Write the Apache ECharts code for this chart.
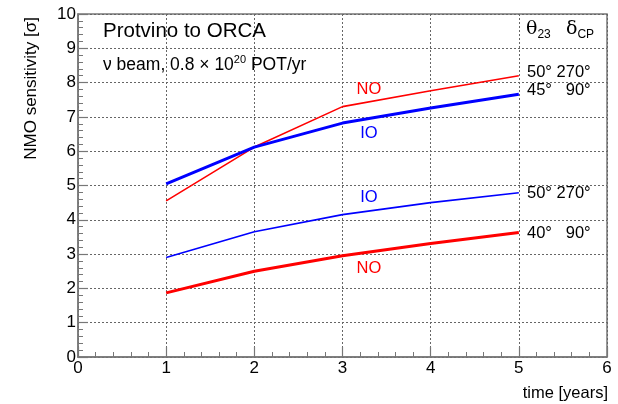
<!DOCTYPE html>
<html>
<head>
<meta charset="utf-8">
<script src="https://cdn.jsdelivr.net/npm/echarts@6/dist/echarts.min.js"></script>
<style>
  html, body { margin: 0; padding: 0; background: #fff; }
  #chart { width: 618px; height: 404px; }
</style>
</head>
<body>
<div id="chart"></div>
<script>
// Exposure time in years
const years = [1, 2, 3, 4, 5];

// NMO sensitivity [sigma] for each (theta23, deltaCP) scenario
const ioTh45Dcp90 = [5.05, 6.12, 6.82, 7.26, 7.66];   // IO, thick blue
const noTh50Dcp270 = [4.55, 6.12, 7.30, 7.76, 8.20];  // NO, thin red
const ioTh50Dcp270 = [2.90, 3.65, 4.15, 4.50, 4.79];  // IO, thin blue
const noTh40Dcp90 = [1.87, 2.50, 2.95, 3.31, 3.63];   // NO, thick red

const xTicks = [0, 1, 2, 3, 4, 5, 6];
const yTicks = [0, 1, 2, 3, 4, 5, 6, 7, 8, 9, 10];

const pair = (ys) => years.map((x, i) => [x, ys[i]]);

const font = 'Liberation Sans, Arial, Helvetica, sans-serif';
const gridCol = '#666';
const axisCol = '#777';

const chart = echarts.init(document.getElementById('chart'), null, { renderer: 'canvas' });

const G = { left: 78, right: 11, top: 14, bottom: 47 };

function axisCommon(ticks) {
  return {
    min: ticks[0],
    max: ticks[ticks.length - 1],
    interval: 1,
    axisLine: { show: true, onZero: false, lineStyle: { color: axisCol, width: 1.5 } },
    axisTick: { show: true, inside: true, length: 10, lineStyle: { color: axisCol, width: 1.2 } },
    minorTick: { show: true, splitNumber: 5, length: 5, lineStyle: { color: axisCol, width: 1 } },
    splitLine: { show: true, lineStyle: { color: gridCol, type: [2, 2], width: 1 } },
    axisLabel: { color: '#000', fontFamily: font, fontSize: 17 }
  };
}

const xAxis = Object.assign(axisCommon(xTicks), { type: 'value' });
xAxis.axisLabel = Object.assign({}, xAxis.axisLabel, { margin: 3 });
const yAxis = Object.assign(axisCommon(yTicks), { type: 'value' });
yAxis.axisLabel = Object.assign({}, yAxis.axisLabel, { margin: 2 });

function line(data, color, width) {
  return {
    type: 'line',
    data: pair(data),
    showSymbol: false,
    symbol: 'none',
    lineStyle: { color: color, width: width },
    animation: false,
    z: 5
  };
}

const option = {
  backgroundColor: '#fff',
  animation: false,
  grid: Object.assign({ show: true, borderColor: axisCol, borderWidth: 1.5, backgroundColor: 'transparent' }, G),
  xAxis: xAxis,
  yAxis: yAxis,
  series: [
    line(noTh50Dcp270, '#ff0000', 1.6),
    line(ioTh45Dcp90, '#0000ff', 3),
    line(ioTh50Dcp270, '#0000ff', 1.6),
    line(noTh40Dcp90, '#ff0000', 3)
  ]
};
chart.setOption(option);

// Annotations placed in data coordinates
function at(x, y) { return chart.convertToPixel({ gridIndex: 0 }, [x, y]); }

function txt(p, text, color, size, align, rich) {
  return {
    type: 'text',
    x: p[0], y: p[1],
    style: {
      text: text, fill: color, fontFamily: font, fontSize: size,
      align: align || 'left', verticalAlign: 'middle', rich: rich
    },
    z: 10
  };
}

const sup = { sup: { fontSize: 11, verticalAlign: 'top', padding: [0, 0, 11, 0], fill: '#000', fontFamily: font } };
const sub = {
  sub: { fontSize: 12, fontFamily: font, fill: '#000', padding: [11, 0, 0, 0] },
  g: { fontSize: 19, fontFamily: 'DejaVu Serif, serif', fill: '#000' }
};

const graphics = [
  txt([103, 31], 'Protvino to ORCA', '#000', 20.5),
  txt([103, 65], '\u03bd beam, 0.8 \u00d7 10{sup|20} POT/yr', '#000', 17.5, 'left', sup),
  txt(at(3.16, 7.8), 'NO', '#ff0000', 16.5),
  txt(at(3.2, 6.52), 'IO', '#0000ff', 16.5),
  txt(at(3.2, 4.66), 'IO', '#0000ff', 16.5),
  txt(at(3.16, 2.58), 'NO', '#ff0000', 16.5),
  txt([526, 29], '{g|\u03b8}{sub|23}', '#000', 19, 'left', sub),
  txt([566, 29], '{g|\u03b4}{sub|CP}', '#000', 19, 'left', sub),
  txt([527, at(5, 8.31)[1]], '50\u00b0 270\u00b0', '#000', 16.5),
  txt([527, at(5, 7.78)[1]], '45\u00b0   90\u00b0', '#000', 16.5),
  txt([527, at(5, 4.78)[1]], '50\u00b0 270\u00b0', '#000', 16.5),
  txt([527, at(5, 3.6)[1]], '40\u00b0   90\u00b0', '#000', 16.5),
  {
    type: 'text', x: 31, y: 17, rotation: Math.PI / 2,
    style: { text: 'NMO sensitivity [\u03c3]', fill: '#000', fontFamily: font, fontSize: 17, align: 'right', verticalAlign: 'middle' }
  },
  {
    type: 'text', x: 608, y: 393,
    style: { text: 'time [years]', fill: '#000', fontFamily: font, fontSize: 16.5, align: 'right', verticalAlign: 'middle' }
  }
];
chart.setOption({ graphic: graphics });
</script>
</body>
</html>
